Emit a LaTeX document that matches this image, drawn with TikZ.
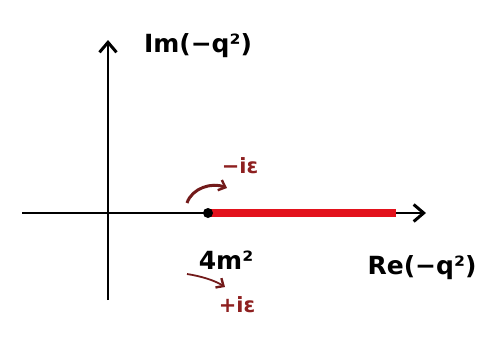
\documentclass[tikz,border=0pt]{standalone}
\usepackage{fontspec}
\setmainfont{DejaVu Sans}
\usetikzlibrary{arrows.meta}
\definecolor{cutred}{HTML}{E3121C}
\definecolor{lbl}{HTML}{8E2020}
\begin{document}
\begin{tikzpicture}[x=1pt,y=-1pt,
  axis/.style={line width=2.8pt,-{Straight Barb[length=10pt,width=17pt,line width=3pt]}},
  lab/.style={font=\fontsize{25}{27}\selectfont\bfseries, inner sep=0pt},
  elab/.style={font=\fontsize{21}{23}\selectfont\bfseries, text=lbl, inner sep=0pt},
  earrow/.style={line width=3pt, draw=lbl!80!black, -{Straight Barb[length=6pt,width=11pt,line width=2.4pt]}}]
\useasboundingbox (0,0) rectangle (491,338);
\coordinate (O) at (108,213);
\coordinate (ytop) at (108,40);
\coordinate (ybot) at (108,300);
\coordinate (xl) at (22,213);
\coordinate (xr) at (426,213);
\coordinate (bp) at (208,213);
\coordinate (re) at (396,213);
\draw[axis] (ybot) -- (ytop);
\draw[axis] (xl) -- (xr);
\draw[line width=8pt, cutred] (bp) -- (re);
\fill (bp) circle (5pt);
\node[lab] (im) at (198,46) {Im(−q²)};
\node[lab] (rel) at (422,268) {Re(−q²)};
\node[lab] (m) at (226,260) {4m²};
\node[elab] (me) at (240,166) {−iε};
\node[elab] (pe) at (237,305) {+iε};
\coordinate (a1s) at (187,203);
\coordinate (a1e) at (227,188);
\draw[earrow] (a1s) .. controls (192,188) and (212,182) .. (a1e);
\coordinate (a2s) at (187,274);
\coordinate (a2e) at (225,287);
\draw[earrow, line width=1.8pt] (a2s) .. controls (200,276) and (214,280) .. (a2e);
\end{tikzpicture}
\end{document}
